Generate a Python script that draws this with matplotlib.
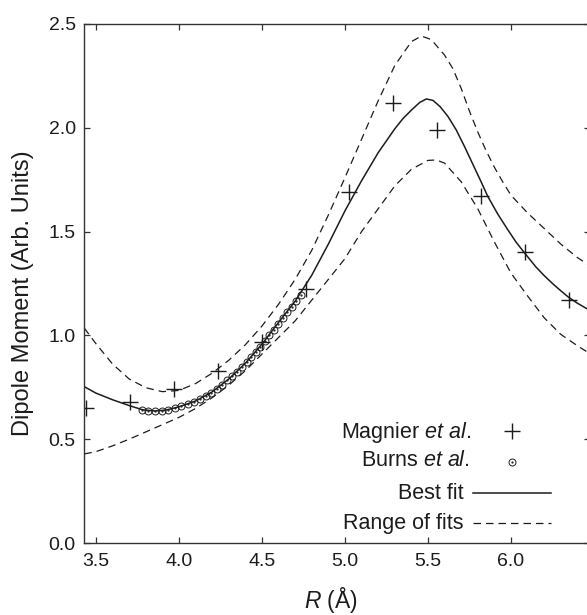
import matplotlib
matplotlib.use("Agg")
import matplotlib.pyplot as plt

plt.rcParams['font.family'] = ['Liberation Sans', 'DejaVu Sans']
plt.rcParams['mathtext.fontset'] = 'custom'
plt.rcParams['mathtext.rm'] = 'Liberation Sans'
plt.rcParams['mathtext.it'] = 'Liberation Sans:italic'

# ---- data ----
magnier_r = [3.440, 3.704, 3.969, 4.233, 4.498, 4.763, 5.027, 5.292, 5.556, 5.821, 6.085, 6.350]
magnier_d = [0.652, 0.678, 0.740, 0.830, 0.968, 1.223, 1.689, 2.119, 1.989, 1.671, 1.400, 1.171]

burns_r = [3.776, 3.816, 3.856, 3.896, 3.936, 3.976, 4.015, 4.053, 4.090, 4.126,
           4.161, 4.195, 4.228, 4.260, 4.291, 4.321, 4.350, 4.379, 4.407, 4.435,
           4.463, 4.490, 4.517, 4.544, 4.571, 4.598, 4.625, 4.652, 4.679, 4.706, 4.733]
burns_d = [0.640, 0.637, 0.636, 0.638, 0.643, 0.651, 0.660, 0.669, 0.681, 0.694,
           0.708, 0.724, 0.743, 0.763, 0.784, 0.805, 0.826, 0.849, 0.872, 0.896,
           0.921, 0.946, 0.973, 1.000, 1.027, 1.055, 1.083, 1.111, 1.139, 1.168, 1.197]

best_r = [3.43, 3.50, 3.60, 3.70, 3.78, 3.85, 3.92, 4.00, 4.10, 4.20, 4.30, 4.40, 4.50,
          4.60, 4.70, 4.80, 4.90, 5.00, 5.10, 5.20, 5.30, 5.35, 5.40, 5.45, 5.49, 5.53,
          5.573, 5.62, 5.67, 5.72, 5.77, 5.82, 5.86, 5.92, 5.98, 6.03, 6.084, 6.15, 6.20,
          6.25, 6.30, 6.345, 6.40, 6.476]
best_d = [0.753, 0.722, 0.690, 0.662, 0.642, 0.636, 0.640, 0.656, 0.684, 0.728, 0.790, 0.866, 0.958,
          1.063, 1.165, 1.290, 1.440, 1.600, 1.745, 1.880, 1.995, 2.045, 2.085, 2.122, 2.139, 2.132,
          2.102, 2.055, 1.990, 1.910, 1.825, 1.740, 1.670, 1.585, 1.510, 1.450, 1.395, 1.330, 1.288,
          1.250, 1.215, 1.185, 1.155, 1.120]

upper_r = [3.43, 3.50, 3.60, 3.70, 3.80, 3.90, 4.00, 4.10, 4.20, 4.30, 4.40, 4.50, 4.60, 4.70,
           4.80, 4.90, 5.00, 5.10, 5.20, 5.30, 5.40, 5.46, 5.52, 5.60, 5.65, 5.70, 5.75, 5.80,
           5.85, 5.90, 5.95, 6.00, 6.10, 6.20, 6.30, 6.40, 6.476]
upper_d = [1.035, 0.960, 0.862, 0.790, 0.748, 0.729, 0.735, 0.768, 0.818, 0.880, 0.955, 1.045, 1.150, 1.270,
           1.410, 1.580, 1.760, 1.945, 2.130, 2.300, 2.415, 2.442, 2.425, 2.350, 2.285, 2.190, 2.080, 1.980,
           1.890, 1.810, 1.740, 1.675, 1.590, 1.515, 1.440, 1.375, 1.335]

lower_r = [3.43, 3.50, 3.60, 3.70, 3.80, 3.90, 4.00, 4.10, 4.20, 4.30, 4.40, 4.50, 4.60, 4.70,
           4.80, 4.90, 5.00, 5.10, 5.20, 5.30, 5.40, 5.50, 5.55, 5.60, 5.70, 5.80, 5.90, 6.00,
           6.10, 6.20, 6.30, 6.40, 6.476]
lower_d = [0.429, 0.440, 0.468, 0.500, 0.535, 0.570, 0.605, 0.648, 0.700, 0.760, 0.830, 0.910, 0.990, 1.070,
           1.170, 1.270, 1.370, 1.500, 1.610, 1.720, 1.800, 1.843, 1.845, 1.830, 1.740, 1.610, 1.450, 1.300,
           1.190, 1.085, 1.005, 0.950, 0.912]

x_ticks = [3.5, 4.0, 4.5, 5.0, 5.5, 6.0]
y_ticks = [0.0, 0.5, 1.0, 1.5, 2.0, 2.5]

ink = '#1c1c1c'

W, H = 587, 615
fig = plt.figure(figsize=(W / 100, H / 100), dpi=100)
ax = fig.add_axes([84 / W, 1 - 543 / H, 506 / W, 519 / H])

dash = (0, (6, 4))
ax.plot(upper_r, upper_d, color=ink, lw=0.9, linestyle=dash)
ax.plot(lower_r, lower_d, color=ink, lw=0.9, linestyle=dash)
ax.plot(best_r, best_d, color=ink, lw=1.1)
ax.plot(burns_r, burns_d, linestyle='none', marker='o', ms=5.0, mfc='none',
        mec=ink, mew=0.7)
ax.plot(burns_r, burns_d, linestyle='none', marker='.', ms=1.2, color=ink)
ax.plot(magnier_r, magnier_d, linestyle='none', marker='+', ms=11, mew=1.0, color=ink)

ax.set_xlim(3.428, 6.476)
ax.set_ylim(0.0, 2.5)
ax.set_xticks(x_ticks)
ax.set_yticks(y_ticks)
ax.set_xticklabels([f"{v:.1f}" for v in x_ticks])
ax.set_yticklabels([f"{v:.1f}" for v in y_ticks])
ax.tick_params(direction='in', length=4, width=0.9, colors='#333333', labelcolor=ink,
               labelsize=14, top=True, right=True)
ax.tick_params(axis='x', pad=7)
ax.tick_params(axis='y', pad=6)
for s in ax.spines.values():
    s.set_color('#333333')
    s.set_linewidth(1.0)

ax.set_xlabel(r'$R$ (Å)', fontsize=16.5, color=ink, va='baseline')
ax.xaxis.set_label_coords(0.488, -(608 - 543) / 519)
ax.set_ylabel('Dipole Moment (Arb. Units)', fontsize=17, color=ink, va='baseline')
ax.yaxis.set_label_coords((29.5 - 84) / 506, (543 - 293) / 519)

# legend drawn by hand in data coordinates
lfs = 15.5
ax.text(5.763, 0.507, r'Magnier $\mathit{et\ al.}$', ha='right', va='baseline', fontsize=lfs, color=ink)
ax.plot([6.004], [0.540], linestyle='none', marker='+', ms=11, mew=1.0, color=ink)
ax.text(5.753, 0.372, r'Burns $\mathit{et\ al.}$', ha='right', va='baseline', fontsize=lfs, color=ink)
ax.plot([6.004], [0.392], linestyle='none', marker='o', ms=5.0, mfc='none', mec=ink, mew=0.7)
ax.plot([6.004], [0.392], linestyle='none', marker='.', ms=1.2, color=ink)
ax.text(5.713, 0.212, 'Best fit', ha='right', va='baseline', fontsize=lfs, color=ink)
ax.plot([5.771, 6.24], [0.242, 0.242], color=ink, lw=1.1)
ax.text(5.713, 0.066, 'Range of fits', ha='right', va='baseline', fontsize=lfs, color=ink)
ax.plot([5.771, 6.24], [0.098, 0.098], color=ink, lw=0.9, linestyle=dash)

fig.savefig('out.png', dpi=100)
